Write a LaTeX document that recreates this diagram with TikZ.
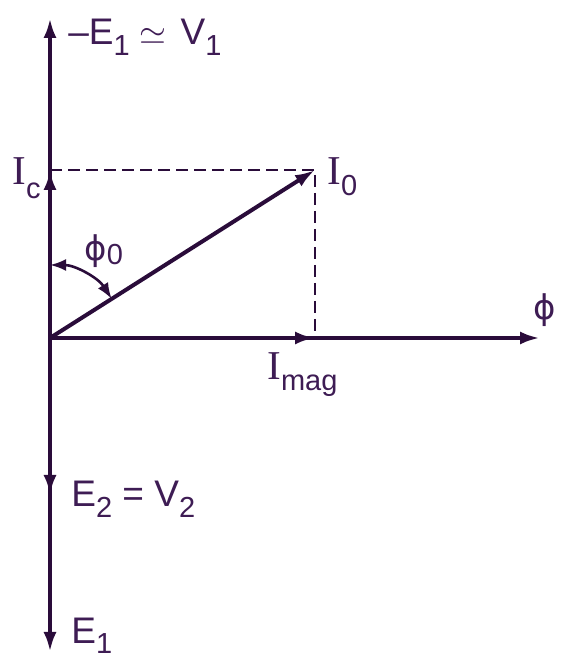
\documentclass[tikz,border=0pt]{standalone}
\usepackage{fontspec}
\setmainfont{Liberation Sans}
\newfontfamily\serifface{Liberation Serif}
\newfontfamily\greekface{DejaVu Sans}
\usetikzlibrary{arrows.meta, positioning}
\definecolor{phasor}{RGB}{42,12,58}
\definecolor{labelink}{RGB}{62,28,84}
\newcommand{\lowsub}[1]{\raisebox{-5.5pt}{\fontsize{14.5}{14.5}\selectfont #1}}
\newcommand{\currI}{{\serifface\fontsize{20.5}{22}\selectfont I}}
\newcommand{\fluxsym}{{\greekface\fontsize{17}{20}\selectfont ϕ}}

\begin{document}
\begin{tikzpicture}[x=0.5pt, y=0.5pt, node distance = 2pt and 2pt]
        \tikzstyle{connect} = [-{Latex[length=10pt, width=6.5pt]}, line width=2pt, draw=phasor]
        \tikzstyle{guide} = [dash pattern=on 6pt off 3pt, line width=1.4pt, draw=phasor]
        \tikzstyle{angarc} = [{Latex[length=8pt, width=6pt]}-{Latex[length=8pt, width=6pt]}, line width=1.3pt, draw=phasor]
        \tikzstyle{lbl} = [text=labelink, inner sep=0pt, font=\fontsize{18.5}{20}\selectfont]
        \useasboundingbox (0,0) rectangle (569,667);
        \coordinate (o) at (50,329);
        \coordinate (top) at (50,649);
        \coordinate (bottom) at (50,15);
        \coordinate (e2) at (50,172);
        \coordinate (ic) at (50,497);
        \coordinate (i0) at (315,497);
        \coordinate (imag) at (315,329);
        \coordinate (phi) at (540,329);
        \draw[guide] (ic) -- (i0) -- (imag);
        \path (o) edge [connect] (top) (o) edge [connect] (ic) (o) edge
        [connect] (bottom) (o) edge [connect] (e2) (o) edge [connect] (phi)
        (o) edge [connect] (imag) (o) edge [connect] (i0);
        \draw[angarc] ([shift={(32.4:36.5pt)}]o) arc[start angle=32.4, end angle=90, radius=36.5pt];
        \node[lbl, anchor=base west] (v1lbl) at (68,622) {–E\lowsub{1}\hspace{5pt}$\simeq$\hspace{7pt}V\lowsub{1}};
        \node[lbl, anchor=base west] (iclbl) at (12,482) {\currI\raisebox{-7pt}{\fontsize{14.5}{14.5}\selectfont c}};
        \node[lbl, anchor=base west] (i0lbl) at (327,482) {\currI\lowsub{0}};
        \node[lbl, anchor=base west] (imaglbl) at (267,287) {\currI\lowsub{mag}};
        \node[lbl] (philbl) at (545,357) {\fluxsym};
        \node[lbl, anchor=base west] (phi0lbl) at (84,406) {\fluxsym\raisebox{-2pt}{\fontsize{14.5}{14.5}\selectfont 0}};
        \node[lbl, anchor=base west] (e2lbl) at (71,160) {E\lowsub{2} = V\lowsub{2}};
        \node[lbl, anchor=base west] (e1lbl) at (71,24) {E\lowsub{1}};
      \end{tikzpicture}
\end{document}
